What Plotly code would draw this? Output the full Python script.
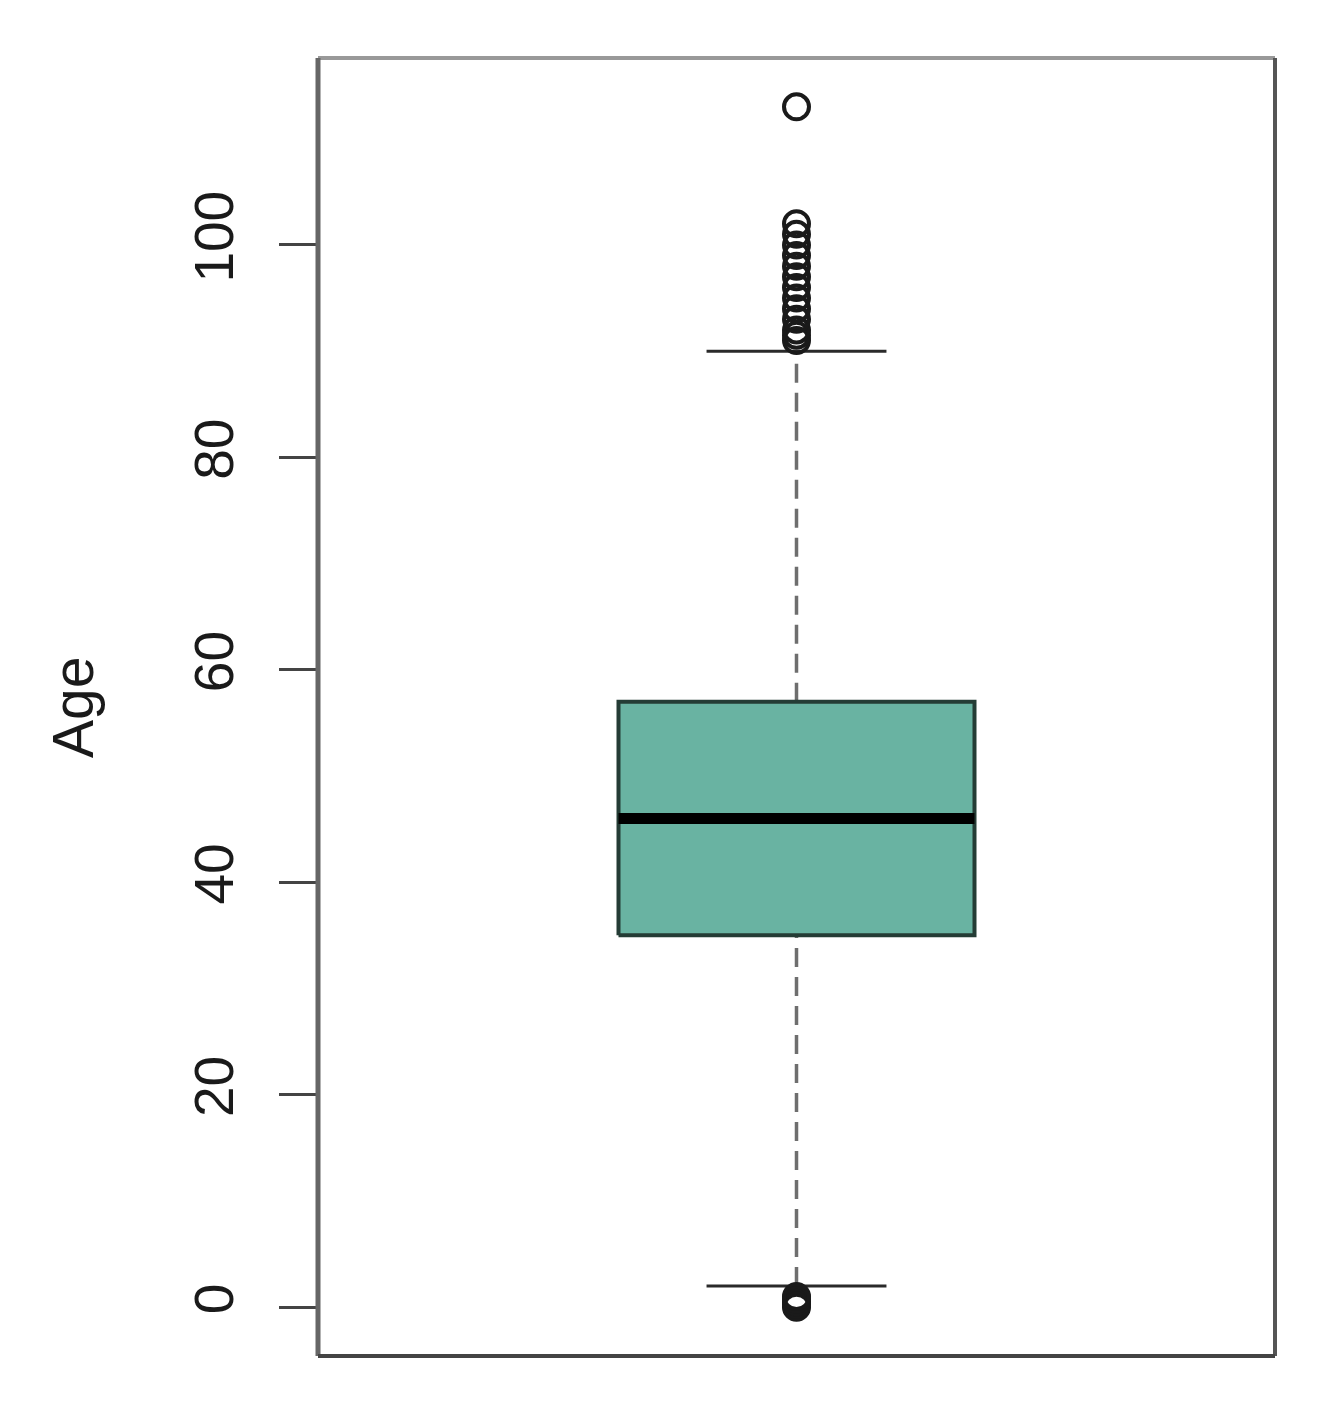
import plotly.graph_objects as go

# ---- data ----
category = [1]
lower_whisker = [2]
q1 = [35]
median = [46]
q3 = [57]
upper_whisker = [90]
outliers_high = [91, 91.5, 92, 93, 94, 95, 96, 97, 98, 99, 100, 101, 102, 113]
outliers_low = [0, 0.25, 0.5, 0.75, 1]
y_ticks = [0, 20, 40, 60, 80, 100]
y_tick_labels = ["0", "20", "40", "60", "80", "100"]
y_title = "Age"

# ---- styling ----
BOX_HALF = 0.186
STAPLE_HALF = 0.094
FILL = "#69b3a2"
FONT = "Liberation Sans, Arial, sans-serif"

fig = go.Figure()
c = category[0]

# whiskers (dashed)
for a, b in [(lower_whisker[0], q1[0]), (q3[0], upper_whisker[0])]:
    fig.add_trace(go.Scatter(x=[c, c], y=[a, b], mode="lines",
                             line=dict(color="#6e6e6e", width=3.5, dash="19px,10px"),
                             hoverinfo="skip", showlegend=False))
# staples
for v in [lower_whisker[0], upper_whisker[0]]:
    fig.add_trace(go.Scatter(x=[c - STAPLE_HALF, c + STAPLE_HALF], y=[v, v], mode="lines",
                             line=dict(color="#2a2a2a", width=3), hoverinfo="skip", showlegend=False))
# box
fig.add_trace(go.Scatter(
    x=[c - BOX_HALF, c + BOX_HALF, c + BOX_HALF, c - BOX_HALF, c - BOX_HALF],
    y=[q1[0], q1[0], q3[0], q3[0], q1[0]],
    mode="lines", fill="toself", fillcolor=FILL,
    line=dict(color="#243c35", width=4), hoverinfo="skip", showlegend=False))
# median
fig.add_trace(go.Scatter(x=[c - BOX_HALF, c + BOX_HALF], y=[median[0], median[0]], mode="lines",
                         line=dict(color="#000000", width=11), hoverinfo="skip", showlegend=False))
# outliers
outs = outliers_high + outliers_low
fig.add_trace(go.Scatter(x=[c] * len(outs), y=outs, mode="markers",
                         marker=dict(symbol="circle-open", size=25, color="#1a1a1a",
                                     line=dict(width=4, color="#1a1a1a")),
                         showlegend=False))

W, H = 1329, 1405
ML, MR, MT, MB = 310, 62, 50, 57
plot_h = H - MT - MB
plot_w = W - ML - MR

fig.update_layout(
    width=W, height=H,
    margin=dict(l=ML, r=MR, t=MT, b=MB),
    paper_bgcolor="white", plot_bgcolor="white",
    font=dict(family=FONT, color="#1a1a1a"),
    xaxis=dict(range=[0.5, 1.5], showgrid=False, zeroline=False, showticklabels=False,
               ticks="", showline=False),
    yaxis=dict(range=[-4.6, 117.6], tickmode="array", tickvals=y_ticks, ticktext=y_tick_labels,
               ticks="outside", ticklen=38, tickwidth=3, tickcolor="#444",
               tickangle=-90, tickfont=dict(size=55, family=FONT, color="#1a1a1a"),
               ticklabelstandoff=24,
               showgrid=False, zeroline=False, showline=False),
    annotations=[dict(text=y_title, xref="paper", yref="paper", x=(65 - ML) / plot_w,
                      y=(H - MB - 700) / plot_h, xanchor="center", yanchor="middle",
                      textangle=-90, showarrow=False, font=dict(size=57, family=FONT, color="#1a1a1a"))],
    shapes=[
        dict(type="line", xref="paper", yref="paper", x0=0, x1=1, y0=1, y1=1, line=dict(color="#999", width=4)),
        dict(type="line", xref="paper", yref="paper", x0=0, x1=0, y0=0, y1=1, line=dict(color="#666", width=5)),
        dict(type="line", xref="paper", yref="paper", x0=1, x1=1, y0=0, y1=1, line=dict(color="#555", width=4)),
        dict(type="line", xref="paper", yref="paper", x0=0, x1=1, y0=0, y1=0, line=dict(color="#444", width=4)),
    ],
)

fig.write_html("out.html")
